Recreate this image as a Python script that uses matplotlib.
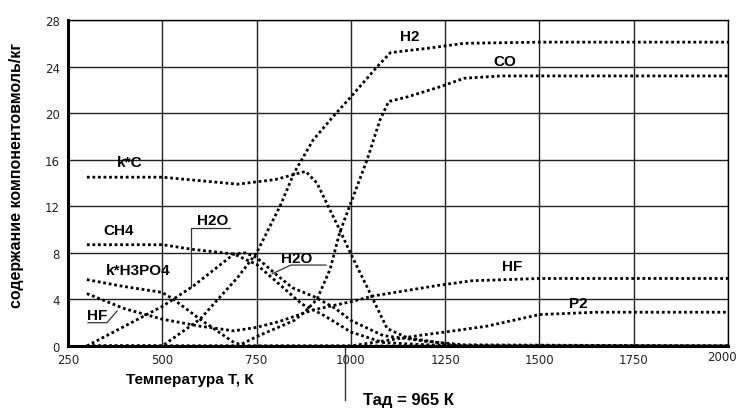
import matplotlib
matplotlib.use('Agg')
import matplotlib.pyplot as plt
import matplotlib.transforms as mtransforms

# Температура, К и содержание компонентов, моль/кг
t_h2 = [300, 500, 600, 700, 750, 812, 850, 900, 950, 1000, 1070, 1105, 1210, 1300, 1500, 2000]
h2 = [0, 0, 2.3, 5.9, 8.0, 12.0, 14.9, 17.7, 19.6, 21.4, 24.0, 25.2, 25.6, 26.0, 26.1, 26.1]

t_co = [300, 700, 750, 800, 850, 880, 910, 945, 970, 1000, 1043, 1077, 1100, 1150, 1240, 1300, 1400, 2000]
co = [0, 0, 0.8, 1.5, 2.2, 3.0, 4.0, 6.6, 9.7, 12.3, 16.0, 19.4, 21.0, 21.4, 22.3, 23.0, 23.2, 23.2]

t_kc = [300, 500, 600, 700, 750, 800, 880, 910, 970, 1000, 1050, 1096, 1150, 1250, 1300, 2000]
kc = [14.5, 14.5, 14.2, 13.9, 14.1, 14.3, 15.0, 14.0, 10.0, 7.9, 4.6, 1.5, 0.7, 0.2, 0, 0]

t_ch4 = [300, 500, 580, 690, 750, 800, 870, 930, 1000, 1085, 1200, 1300, 2000]
ch4 = [8.7, 8.7, 8.3, 7.9, 7.0, 5.6, 3.6, 2.6, 1.2, 0.3, 0.1, 0, 0]

t_h2o = [300, 400, 500, 580, 690, 720, 750, 800, 845, 905, 960, 1000, 1085, 1200, 1300, 2000]
h2o = [0, 1.7, 3.4, 5.1, 7.9, 8.0, 7.6, 6.2, 5.0, 4.2, 3.2, 2.2, 0.9, 0.4, 0.1, 0]

t_h3po4 = [300, 400, 500, 530, 600, 690, 720, 2000]
h3po4 = [5.7, 5.1, 4.6, 4.0, 2.3, 0.3, 0, 0]

t_hf = [300, 400, 500, 600, 690, 750, 810, 900, 1000, 1060, 1230, 1320, 1500, 2000]
hf = [4.5, 3.2, 2.3, 1.7, 1.3, 1.6, 2.1, 3.1, 3.8, 4.3, 5.2, 5.6, 5.8, 5.8]

t_p2 = [300, 1000, 1100, 1180, 1250, 1360, 1500, 1650, 2000]
p2 = [0, 0, 0.5, 0.9, 1.2, 1.7, 2.7, 2.9, 2.9]

x_ticks = [250, 500, 750, 1000, 1250, 1500, 1750, 2000]
y_ticks = [0, 4, 8, 12, 16, 20, 24, 28]

fig = plt.figure(figsize=(7.37, 4.10), dpi=100)
ax = fig.add_axes([0.0923, 0.1537, 0.8955, 0.795])

series = [(t_h2, h2), (t_co, co), (t_kc, kc), (t_ch4, ch4), (t_h2o, h2o),
          (t_h3po4, h3po4), (t_hf, hf), (t_p2, p2)]
for t, v in series:
    ax.plot(t, v, color='black', lw=2.0, linestyle=(0, (1, 1)), zorder=3)

ax.set_xlim(250, 2000)
ax.set_ylim(0, 28)
ax.set_xticks(x_ticks)
ax.set_yticks(y_ticks)
ax.grid(True, color='#222222', lw=1.0)
ax.tick_params(length=0, labelsize=8.5, colors='#222222')
ax.tick_params(axis='x', pad=5)
ax.tick_params(axis='y', pad=6)
for s in ['top', 'right']:
    ax.spines[s].set_linewidth(1.0)
for s in ['left', 'bottom']:
    ax.spines[s].set_linewidth(2.2)

# последняя подпись оси прижата к краю, как в оригинале
last = ax.get_xticklabels()[-1]
last.set_ha('right')
last.set_transform(last.get_transform() + mtransforms.ScaledTranslation(0.09, 0.03, fig.dpi_scale_trans))

lbl = dict(fontsize=11, fontweight='bold', family='Liberation Sans', ha='center', va='center')
ax.text(1157, 26.6, 'H2', **lbl)
ax.text(1408, 24.5, 'CO', **lbl)
ax.text(414, 15.8, 'k*C', **lbl)
ax.text(383, 10.0, 'CH4', **lbl)
ax.text(634, 10.8, 'H2O', **lbl)
ax.text(436, 6.5, 'k*H3PO4', **lbl)
ax.text(327, 2.7, 'HF', **lbl)
ax.text(857, 7.6, 'H2O', **lbl)
ax.text(1427, 6.9, 'HF', **lbl)
ax.text(1602, 3.7, 'P2', **lbl)

# выноски
ax.plot([679, 576, 576], [10.1, 10.1, 5.1], color='#333333', lw=0.9, zorder=4)
ax.plot([303, 353, 380], [2.0, 2.0, 3.0], color='#333333', lw=0.9, zorder=4)
ax.plot([934, 841, 791], [6.95, 6.95, 6.2], color='#333333', lw=0.9, zorder=4)

# адиабатическая температура
ax.plot([984, 984], [0, -4.6], color='#333333', lw=1.0, clip_on=False)
fig.text(0.493, 0.022, 'Тад = 965 К', fontsize=12, fontweight='bold',
         family='Liberation Sans', ha='left', va='center')

fig.text(0.257, 0.072, 'Температура Т, К', fontsize=11, fontweight='bold',
         family='Liberation Sans', ha='center', va='center')
fig.text(0.023, 0.573, 'содержание компонентовмоль/кг', fontsize=11.5, fontweight='bold',
         family='Liberation Sans', rotation=90, ha='center', va='center')

fig.savefig('out.png', dpi=100, facecolor='white')
